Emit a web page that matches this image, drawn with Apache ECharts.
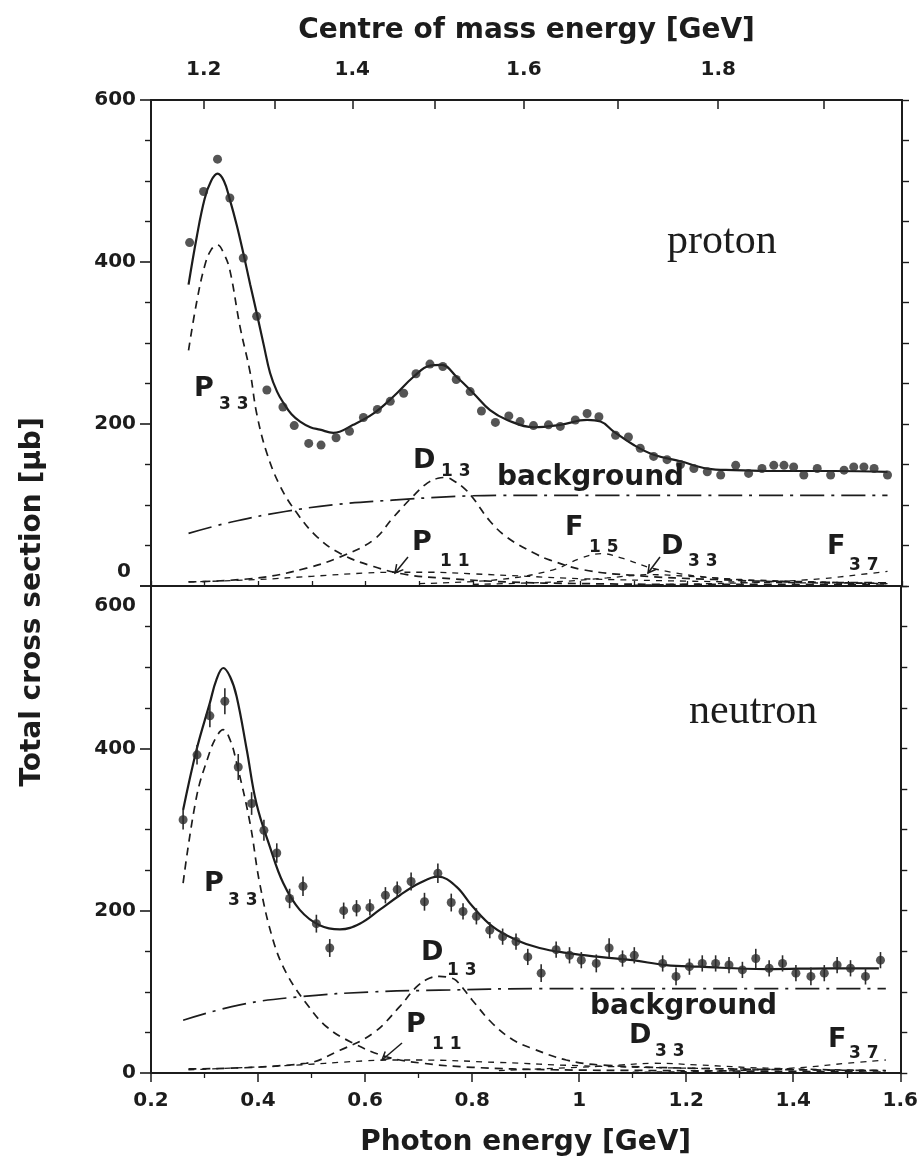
<!DOCTYPE html>
<html>
<head>
<meta charset="utf-8">
<script src="https://cdn.jsdelivr.net/npm/echarts@6/dist/echarts.min.js"></script>
<style>
  html, body { margin: 0; padding: 0; background: #ffffff; }
  #chart { width: 921px; height: 1171px; }
</style>
</head>
<body>
<div id="chart"></div>
<script>
// ---------- Proton: measured total cross section (µb) vs photon energy (GeV)
const protonE = [0.272,0.298,0.324,0.347,0.372,0.397,0.416,0.446,0.467,0.494,0.517,0.545,0.570,0.596,0.622,0.646,0.671,0.694,0.720,0.744,0.769,0.795,0.816,0.842,0.867,0.888,0.913,0.941,0.963,0.991,1.013,1.035,1.066,1.090,1.112,1.137,1.162,1.187,1.212,1.237,1.262,1.290,1.314,1.339,1.361,1.380,1.398,1.417,1.442,1.467,1.492,1.510,1.529,1.548,1.573];
const protonSigma = [424,487,527,479,405,333,242,221,198,176,174,183,191,208,218,228,238,262,274,271,255,240,216,202,210,203,198,199,197,205,213,209,186,184,170,160,156,150,145,141,137,149,139,145,149,149,147,137,145,137,143,147,147,145,137];

// Proton: total fit
const protonFitE = [0.270,0.285,0.300,0.312,0.324,0.336,0.347,0.360,0.372,0.385,0.397,0.410,0.422,0.435,0.447,0.462,0.478,0.497,0.515,0.540,0.577,0.615,0.652,0.689,0.720,0.742,0.770,0.801,0.832,0.864,0.913,0.963,1.013,1.038,1.062,1.100,1.137,1.187,1.237,1.286,1.349,1.411,1.473,1.573];
const protonFitSigma = [372,430,478,500,509,500,477,445,411,372,337,298,263,240,226,212,203,196,193,189,199,213,234,258,272,273,258,238,217,205,196,199,205,203,191,174,162,154,145,143,142,142,142,141];

// Proton: resonance contributions and background
const pP33E = [0.270,0.285,0.300,0.312,0.324,0.336,0.347,0.366,0.385,0.397,0.416,0.441,0.472,0.509,0.553,0.615,0.677,0.739,0.864,1.000,1.200,1.400,1.573];
const pP33Sigma = [291,350,395,415,421,410,390,320,263,213,164,123,90,61,40,24,14,10,5,3,2,2,1];
const pD13E = [0.270,0.400,0.490,0.553,0.615,0.652,0.690,0.715,0.735,0.750,0.764,0.785,0.801,0.832,0.864,0.913,0.944,1.006,1.100,1.250,1.400,1.573];
const pD13Sigma = [5,10,22,36,57,85,112,127,133,134,130,120,108,80,60,41,32,20,13,8,5,4];
const pBackE = [0.270,0.350,0.450,0.550,0.650,0.750,0.850,1.000,1.200,1.400,1.573];
const pBackSigma = [65,79,92,101,106,110,112,112,112,112,112];
const pP11E = [0.270,0.400,0.500,0.600,0.660,0.720,0.800,0.900,1.000,1.200,1.400,1.573];
const pP11Sigma = [5,8,12,16,17,17,15,12,9,6,4,3];
const pF15E = [0.700,0.850,0.950,1.000,1.040,1.080,1.140,1.250,1.400,1.573];
const pF15Sigma = [3,8,20,34,40,34,21,10,5,3];
const pD33E = [0.800,0.950,1.050,1.130,1.200,1.300,1.450,1.573];
const pD33Sigma = [2,5,10,14,12,8,5,3];
const pF37E = [1.100,1.250,1.350,1.450,1.520,1.573];
const pF37Sigma = [1,3,5,9,14,18];

// ---------- Neutron: measured total cross section (µb) with errors
const neutronE = [0.260,0.286,0.310,0.338,0.363,0.388,0.411,0.435,0.459,0.484,0.509,0.534,0.560,0.584,0.609,0.638,0.660,0.686,0.711,0.736,0.761,0.783,0.808,0.833,0.857,0.882,0.904,0.929,0.957,0.982,1.004,1.032,1.056,1.081,1.103,1.156,1.181,1.206,1.230,1.255,1.280,1.305,1.330,1.355,1.380,1.405,1.433,1.458,1.482,1.507,1.535,1.563];
const neutronSigma = [312,392,440,458,377,332,299,271,215,230,184,154,200,203,204,219,226,236,211,246,210,199,193,176,168,162,143,123,152,145,139,135,154,141,145,135,119,131,135,135,133,127,141,129,135,123,119,123,133,129,119,139];
const neutronErr = [12,12,14,16,16,14,13,12,12,12,11,11,10,10,10,10,10,11,11,12,11,10,10,10,10,10,10,11,10,10,10,11,12,10,10,10,11,10,10,10,10,10,12,10,10,10,11,10,10,10,10,10];

// Neutron: total fit
const neutronFitE = [0.260,0.285,0.310,0.322,0.335,0.348,0.360,0.379,0.397,0.422,0.447,0.478,0.515,0.553,0.590,0.627,0.665,0.702,0.736,0.770,0.801,0.839,0.882,0.926,0.976,1.038,1.100,1.162,1.224,1.349,1.473,1.560];
const neutronFitSigma = [324,398,456,484,499,488,464,398,332,279,234,201,182,177,184,201,219,234,242,230,205,180,164,154,148,143,139,133,131,128,129,129];

// Neutron: resonance contributions and background
const nP33E = [0.260,0.285,0.307,0.322,0.335,0.348,0.360,0.385,0.403,0.428,0.453,0.490,0.528,0.577,0.640,0.708,0.800,0.950,1.150,1.400,1.573];
const nP33Sigma = [234,340,390,414,423,410,382,308,234,164,123,86,57,37,20,12,7,4,3,2,1];
const nD13E = [0.270,0.490,0.553,0.615,0.665,0.696,0.721,0.739,0.755,0.770,0.800,0.838,0.876,0.913,0.976,1.038,1.200,1.400,1.573];
const nD13Sigma = [5,12,28,49,82,106,117,119,118,114,90,61,41,30,16,10,6,4,3];
const nBackE = [0.260,0.366,0.478,0.615,0.739,0.926,1.200,1.573];
const nBackSigma = [65,84,94,100,102,104,104,104];
const nP11E = [0.270,0.450,0.600,0.640,0.700,0.850,1.000,1.200,1.573];
const nP11Sigma = [4,9,15,16,16,13,9,6,3];
const nD33E = [0.850,1.000,1.080,1.140,1.220,1.350,1.573];
const nD33Sigma = [3,7,10,12,10,6,3];
const nF37E = [1.100,1.300,1.420,1.500,1.573];
const nF37Sigma = [1,3,7,12,16];

// ---------- Axis ticks
const crossSectionTicks = [0, 200, 400, 600];
const photonTicks = [0.2, 0.4, 0.6, 0.8, 1.0, 1.2, 1.4, 1.6];
const cmTickValues = [1.2, 1.3, 1.4, 1.5, 1.6, 1.7, 1.8, 1.9];
const cmLabelValues = [1.2, 1.4, 1.6, 1.8];

// Centre-of-mass energy W <-> photon lab energy for a nucleon at rest
const NUCLEON_MASS = 0.9383;
const photonFromW = w => (w * w - NUCLEON_MASS * NUCLEON_MASS) / (2 * NUCLEON_MASS);
const wFromPhoton = e => Math.sqrt(NUCLEON_MASS * NUCLEON_MASS + 2 * NUCLEON_MASS * e);

const pairs = (xs, ys) => xs.map((x, i) => [x, ys[i]]);

const INK = '#1c1c1c';
const SANS = 'DejaVu Sans';
const tickFont = { fontFamily: SANS, fontWeight: 'bold', fontSize: 20, color: INK };
const nameFont = { fontFamily: SANS, fontWeight: 'bold', fontSize: 28, color: INK };

const GRID_LEFT = 151, GRID_RIGHT = 19;
const TOP_Y = 100, MID_Y = 586, BOT_Y = 1073;

function curve(name, xs, ys, axis, dash, width) {
  return {
    name, type: 'line', xAxisIndex: axis.x, yAxisIndex: axis.y,
    data: pairs(xs, ys), showSymbol: false, smooth: 0.4,
    lineStyle: { color: INK, width: width, type: dash },
    silent: true, z: 3
  };
}

const TOP = { x: 0, y: 0 };
const BOTTOM = { x: 2, y: 2 };
const DASH = [8, 6];
const SHORT_DASH = [6, 6];
const DASH_DOT = [24, 7, 3, 7];

function yAxisLeft(grid, hideMin, hideMax) {
  return {
    type: 'value', gridIndex: grid, position: 'left', min: 0, max: 600, interval: 200,
    axisLine: { show: true, lineStyle: { color: INK, width: 2 } },
    axisTick: { show: true, inside: false, length: 11, lineStyle: { color: INK, width: 1.6 } },
    minorTick: { show: true, splitNumber: 4, length: 6, lineStyle: { color: INK, width: 1.4 } },
    axisLabel: Object.assign({ margin: 15, showMinLabel: !hideMin, showMaxLabel: !hideMax,
      customValues: crossSectionTicks }, tickFont),
    splitLine: { show: false }
  };
}
function yAxisRight(grid) {
  return {
    type: 'value', gridIndex: grid, position: 'right', min: 0, max: 600, interval: 50,
    axisLine: { show: true, lineStyle: { color: INK, width: 2 } },
    axisTick: { show: true, inside: false, length: 7, lineStyle: { color: INK, width: 1.4 } },
    axisLabel: { show: false }, splitLine: { show: false }
  };
}

// Resonance tags: a capital letter with a subscript index
function tag(letter, sub, x, y, sx, sy) {
  return [
    { type: 'text', x: x, y: y, z: 50,
      style: { text: letter, fontFamily: SANS, fontWeight: 'bold', fontSize: 27, fill: INK, align: 'left', verticalAlign: 'middle' } },
    { type: 'text', x: sx, y: sy, z: 50,
      style: { text: sub, fontFamily: SANS, fontWeight: 'bold', fontSize: 17, fill: INK, align: 'left', verticalAlign: 'middle' } }
  ];
}
function arrow(x1, y1, x2, y2) {
  const a = Math.atan2(y2 - y1, x2 - x1), h = 9, s = 0.5;
  return [
    { type: 'line', z: 50, shape: { x1, y1, x2, y2 }, style: { stroke: INK, lineWidth: 1.5 } },
    { type: 'polyline', z: 50,
      shape: { points: [[x2 - h * Math.cos(a - s), y2 - h * Math.sin(a - s)], [x2, y2], [x2 - h * Math.cos(a + s), y2 - h * Math.sin(a + s)]] },
      style: { stroke: INK, lineWidth: 1.5, fill: null } }
  ];
}
function text(str, x, y, font, size, weight, align) {
  return { type: 'text', x, y, z: 50,
    style: { text: str, fontFamily: font, fontSize: size, fontWeight: weight || 'normal', fill: INK,
             align: align || 'left', verticalAlign: 'middle' } };
}

const graphics = [].concat(
  text('proton', 667, 242, 'Liberation Serif', 42),
  text('neutron', 689, 712, 'Liberation Serif', 42),
  // axis-end labels kept clear of each other at the panel junction
  text('0', 131, 572, SANS, 20, 'bold', 'right'),
  text('600', 136, 606, SANS, 20, 'bold', 'right'),
  { type: 'text', x: 33, y: 602, z: 50, rotation: Math.PI / 2,
    style: { text: 'Total cross section [µb]', fontFamily: SANS, fontWeight: 'bold', fontSize: 28, fill: INK, align: 'center', verticalAlign: 'middle' } },
  // proton panel tags
  tag('P', '3 3', 194, 389, 219, 405),
  tag('D', '1 3', 413, 461, 441, 472),
  text('background', 497, 478, SANS, 28, 'bold'),
  tag('P', '1 1', 412, 543, 440, 562),
  arrow(408, 557, 395, 573),
  tag('F', '1 5', 565, 528, 589, 548),
  tag('D', '3 3', 661, 547, 688, 562),
  arrow(660, 557, 648, 573),
  tag('F', '3 7', 827, 547, 849, 566),
  // neutron panel tags
  tag('P', '3 3', 204, 884, 228, 901),
  tag('D', '1 3', 421, 953, 447, 971),
  text('background', 590, 1007, SANS, 28, 'bold'),
  tag('P', '1 1', 406, 1025, 432, 1045),
  arrow(402, 1043, 382, 1060),
  tag('D', '3 3', 629, 1036, 655, 1052),
  tag('F', '3 7', 828, 1040, 849, 1054)
);

const option = {
  backgroundColor: '#ffffff',
  animation: false,
  grid: [
    { left: GRID_LEFT, right: GRID_RIGHT, top: TOP_Y, height: MID_Y - TOP_Y },
    { left: GRID_LEFT, right: GRID_RIGHT, top: MID_Y, height: BOT_Y - MID_Y }
  ],
  xAxis: [
    { // proton panel, lower edge
      type: 'value', gridIndex: 0, position: 'bottom', min: 0.2, max: 1.6, interval: 0.1,
      axisLine: { show: true, onZero: false, lineStyle: { color: INK, width: 2 } },
      axisTick: { show: true, inside: true, length: 5, lineStyle: { color: INK, width: 1.3 } },
      axisLabel: { show: false }, splitLine: { show: false }
    },
    { // centre of mass energy scale
      type: 'value', gridIndex: 0, position: 'top', min: 0.2, max: 1.6,
      axisLine: { show: true, onZero: false, lineStyle: { color: INK, width: 2 } },
      axisTick: { show: true, inside: true, length: 9, customValues: cmTickValues.map(photonFromW), lineStyle: { color: INK, width: 1.5 } },
      axisLabel: Object.assign({ margin: 20, customValues: cmLabelValues.map(photonFromW),
        formatter: v => wFromPhoton(v).toFixed(1) }, tickFont),
      splitLine: { show: false },
      name: 'Centre of mass energy [GeV]', nameLocation: 'middle', nameGap: 55,
      nameMoveOverlap: false, nameTextStyle: nameFont
    },
    { // photon energy scale
      type: 'value', gridIndex: 1, position: 'bottom', min: 0.2, max: 1.6, interval: 0.2,
      axisLine: { show: true, onZero: false, lineStyle: { color: INK, width: 2 } },
      axisTick: { show: true, inside: false, length: 9, lineStyle: { color: INK, width: 1.5 } },
      minorTick: { show: true, splitNumber: 2, length: 5, lineStyle: { color: INK, width: 1.3 } },
      axisLabel: Object.assign({ margin: 18, customValues: photonTicks }, tickFont),
      splitLine: { show: false },
      name: 'Photon energy [GeV]', nameLocation: 'middle', nameGap: 56,
      nameMoveOverlap: false, nameTextStyle: nameFont
    }
  ],
  yAxis: [
    yAxisLeft(0, true, false),
    yAxisRight(0),
    yAxisLeft(1, false, true),
    yAxisRight(1)
  ],
  graphic: graphics,
  series: [
    curve('proton fit', protonFitE, protonFitSigma, TOP, 'solid', 2.2),
    curve('P33', pP33E, pP33Sigma, TOP, DASH, 1.7),
    curve('D13', pD13E, pD13Sigma, TOP, DASH, 1.7),
    curve('background', pBackE, pBackSigma, TOP, DASH_DOT, 1.7),
    curve('P11', pP11E, pP11Sigma, TOP, SHORT_DASH, 1.3),
    curve('F15', pF15E, pF15Sigma, TOP, SHORT_DASH, 1.3),
    curve('D33', pD33E, pD33Sigma, TOP, SHORT_DASH, 1.3),
    curve('F37', pF37E, pF37Sigma, TOP, SHORT_DASH, 1.3),
    {
      name: 'proton data', type: 'scatter', xAxisIndex: 0, yAxisIndex: 0,
      data: pairs(protonE, protonSigma), symbol: 'circle', symbolSize: 9,
      itemStyle: { color: '#2b2b2b' }, z: 5, silent: true
    },

    curve('neutron fit', neutronFitE, neutronFitSigma, BOTTOM, 'solid', 2.2),
    curve('P33 n', nP33E, nP33Sigma, BOTTOM, DASH, 1.7),
    curve('D13 n', nD13E, nD13Sigma, BOTTOM, DASH, 1.7),
    curve('background n', nBackE, nBackSigma, BOTTOM, DASH_DOT, 1.7),
    curve('P11 n', nP11E, nP11Sigma, BOTTOM, SHORT_DASH, 1.3),
    curve('D33 n', nD33E, nD33Sigma, BOTTOM, SHORT_DASH, 1.3),
    curve('F37 n', nF37E, nF37Sigma, BOTTOM, SHORT_DASH, 1.3),
    {
      name: 'neutron errors', type: 'custom', xAxisIndex: 2, yAxisIndex: 2, silent: true, z: 4,
      data: neutronE.map((x, i) => [x, neutronSigma[i], neutronErr[i]]),
      renderItem: function (params, api) {
        const x = api.value(0), y = api.value(1), e = api.value(2);
        const lo = api.coord([x, y - e]), hi = api.coord([x, y + e]);
        return { type: 'line', shape: { x1: lo[0], y1: lo[1], x2: hi[0], y2: hi[1] },
                 style: { stroke: '#2b2b2b', lineWidth: 1.6 } };
      }
    },
    {
      name: 'neutron data', type: 'scatter', xAxisIndex: 2, yAxisIndex: 2,
      data: pairs(neutronE, neutronSigma), symbol: 'circle', symbolSize: 9,
      itemStyle: { color: '#2b2b2b' }, z: 5, silent: true
    }
  ]
};

const chart = echarts.init(document.getElementById('chart'));
chart.setOption(option);
</script>
</body>
</html>
